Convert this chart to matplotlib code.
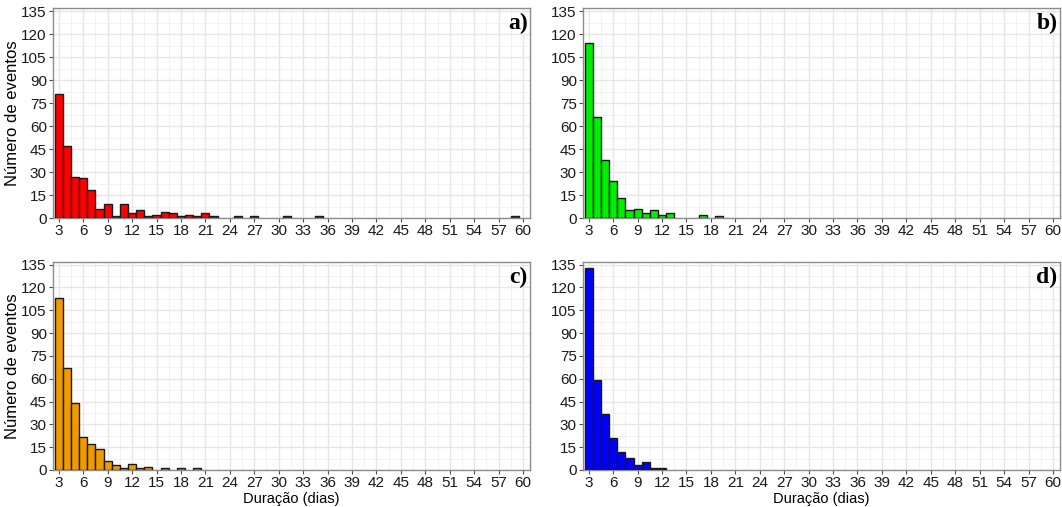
import numpy as np
import matplotlib
matplotlib.use("Agg")
import matplotlib.pyplot as plt
from matplotlib.ticker import MultipleLocator

plt.rcParams['font.family'] = ['Liberation Sans', 'DejaVu Sans']

# duration (days) -> number of events, one list per panel
dias_a = [3, 4, 5, 6, 7, 8, 9, 10, 11, 12, 13, 14, 15, 16, 17, 18, 19, 20, 21, 22, 25, 27, 31, 35, 59]
eventos_a = [81, 47, 27, 26, 18, 6, 9, 1, 9, 3, 5, 1, 2, 4, 3, 1, 2, 1, 3, 1, 1, 1, 1, 1, 1]

dias_b = [3, 4, 5, 6, 7, 8, 9, 10, 11, 12, 13, 17, 19]
eventos_b = [114, 66, 38, 24, 13, 5, 6, 3, 5, 2, 3, 2, 1]

dias_c = [3, 4, 5, 6, 7, 8, 9, 10, 11, 12, 13, 14, 16, 18, 20]
eventos_c = [113, 67, 44, 22, 17, 14, 6, 3, 1, 4, 1, 2, 1, 1, 1]

dias_d = [3, 4, 5, 6, 7, 8, 9, 10, 11, 12]
eventos_d = [133, 59, 37, 21, 12, 8, 3, 5, 1, 1]

painel = ["a)", "b)", "c)", "d)"]
cores = ["#FF0000", "#00EE00", "#EE9A00", "#0000FF"]
xticks = list(range(3, 61, 3))
yticks = list(range(0, 136, 15))

fig = plt.figure(figsize=(10.62, 5.07), dpi=100)
pos = [[0.050, 0.570, 0.449, 0.414],
       [0.549, 0.570, 0.449, 0.414],
       [0.050, 0.073, 0.449, 0.411],
       [0.549, 0.073, 0.449, 0.411]]
dados = [(dias_a, eventos_a), (dias_b, eventos_b), (dias_c, eventos_c), (dias_d, eventos_d)]

for i, (x, y) in enumerate(dados):
    ax = fig.add_axes(pos[i])
    ax.bar(x, y, width=1.0, color=cores[i], edgecolor="#1a1a1a", linewidth=1.0, zorder=3)
    ax.set_xlim(2.3, 60.85)
    ax.set_ylim(0, 137)
    ax.set_xticks(xticks)
    ax.set_yticks(yticks)
    ax.xaxis.set_minor_locator(MultipleLocator(1.5))
    ax.yaxis.set_minor_locator(MultipleLocator(7.5))
    ax.grid(which="major", color="#e6e6e6", linewidth=1.0, zorder=0)
    ax.grid(which="minor", color="#f0f0f0", linewidth=0.6, zorder=0)
    ax.tick_params(which="minor", length=0)
    ax.tick_params(which="major", length=3, color="#4d4d4d", labelsize=11,
                   labelcolor="#1a1a1a", pad=1.5)
    for s in ax.spines.values():
        s.set_color("#8c8c8c")
        s.set_linewidth(1.0)
    ax.text(0.995, 0.975, painel[i], transform=ax.transAxes, ha="right", va="top",
            fontsize=17, fontweight="bold", family="Liberation Serif")
    if i % 2 == 0:
        ax.set_ylabel("Número de eventos", fontsize=12, labelpad=1)
    if i >= 2:
        ax.set_xlabel("Duração (dias)", fontsize=10.5, labelpad=1)

fig.savefig("out.png", dpi=100)
